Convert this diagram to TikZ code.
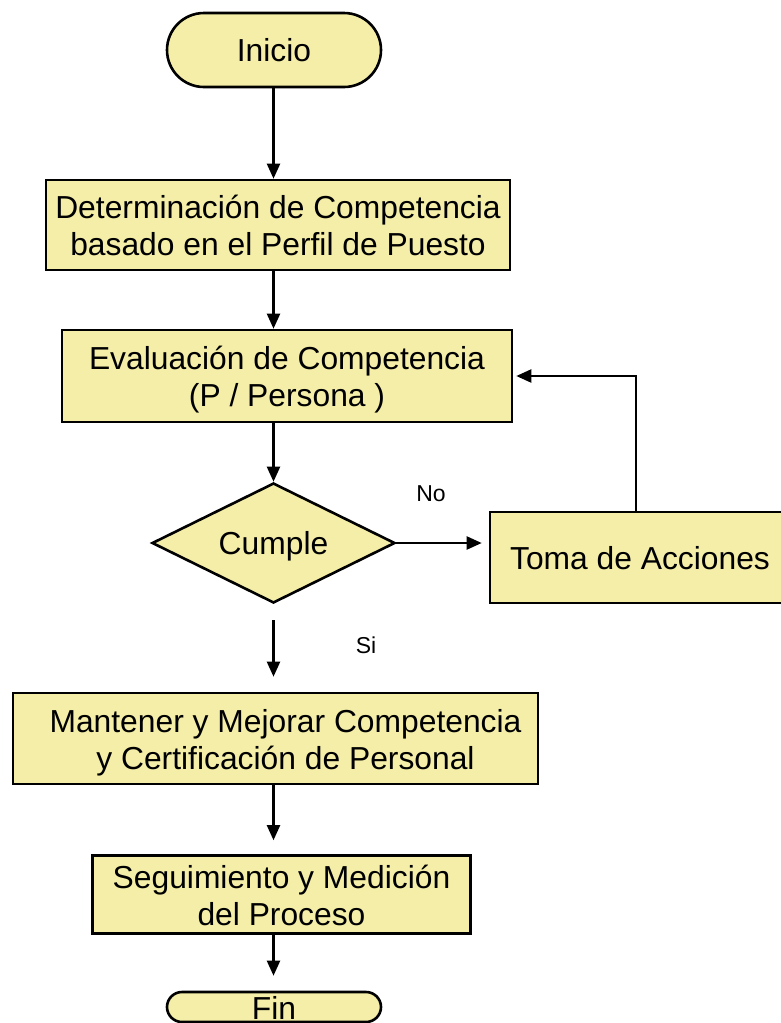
\documentclass[tikz,border=0pt]{standalone}
\usepackage{fontspec}
\setmainfont{Liberation Sans}
\usetikzlibrary{arrows.meta,shapes.geometric,shapes.misc}
\definecolor{boxfill}{RGB}{244,238,168}
\newcommand{\twoline}[2]{\begin{tabular}[t]{@{}c@{}}#1\\#2\end{tabular}}
\begin{document}
\begin{tikzpicture}[x=1pt,y=-1pt,
  every node/.style={font=\fontsize{31.8}{37}\selectfont, text=black},
  shp/.style={draw=black, line width=2.6pt, fill=boxfill, inner sep=0pt},
  proc/.style={shp, rectangle, text height=20pt, text depth=33pt},
  single/.style={text height=23pt, text depth=0pt},
  term/.style={shp, rounded rectangle},
  dec/.style={shp, diamond, aspect=2},
  flow/.style={line width=2.2pt, -{Triangle[length=15pt,width=13pt]}},
  lbl/.style={font=\fontsize{23}{27}\selectfont}
]
\useasboundingbox (0,0) rectangle (781,1023);
\clip (0,0) rectangle (781,1023);

\node[term, single, minimum width=214pt, minimum height=74pt] (start) at (274,50) {Inicio};
\node[proc, minimum width=464pt, minimum height=90pt] (b1) at (278,225) {\twoline{Determinación de Competencia}{basado en el Perfil de Puesto}};
\node[proc, minimum width=450pt, minimum height=92pt] (b2) at (287,376) {\twoline{Evaluación de Competencia}{(P / Persona )}};
\node[dec, single, minimum width=243pt, minimum height=120pt] (d) at (273.5,543) {Cumple};
\node[shp, rectangle, single, minimum width=300pt, minimum height=91pt] (toma) at (640,557.5) {Toma de Acciones};
\node[proc, minimum width=525pt, minimum height=91pt] (b3) at (275.5,738.5) {\hspace*{20pt}\twoline{Mantener y Mejorar Competencia}{y Certificación de Personal}};
\node[proc, minimum width=378pt, minimum height=78pt] (b4) at (281.5,894.5) {\twoline{Seguimiento y Medición}{del Proceso}};
\node[term, minimum width=214pt, minimum height=30pt] (fin) at (274,1007) {};
\node[anchor=base] (fintext) at (274,1019) {Fin};

\node[lbl] (no) at (431,494) {No};
\node[lbl] (si) at (366,645) {Si};

\draw[flow] (d.north |- start.south) -- (d.north |- b1.north);
\draw[flow] (d.north |- b1.south) -- (d.north |- b2.north);
\draw[flow] (d.north |- b2.south) -- (d.north);
\draw[flow, shorten >=7pt] (d.east) -- (d.east -| toma.west);
\draw[flow, shorten >=3pt] ([xshift=-4pt]toma.north) |- (b2.east);
\draw[flow, shorten <=16pt, shorten >=15pt] (d.south) -- (d.south |- b3.north);
\draw[flow, shorten >=14pt] (d.south |- b3.south) -- (d.south |- b4.north);
\draw[flow, shorten >=15pt] (d.south |- b4.south) -- (d.south |- fin.north);
\end{tikzpicture}
\end{document}
